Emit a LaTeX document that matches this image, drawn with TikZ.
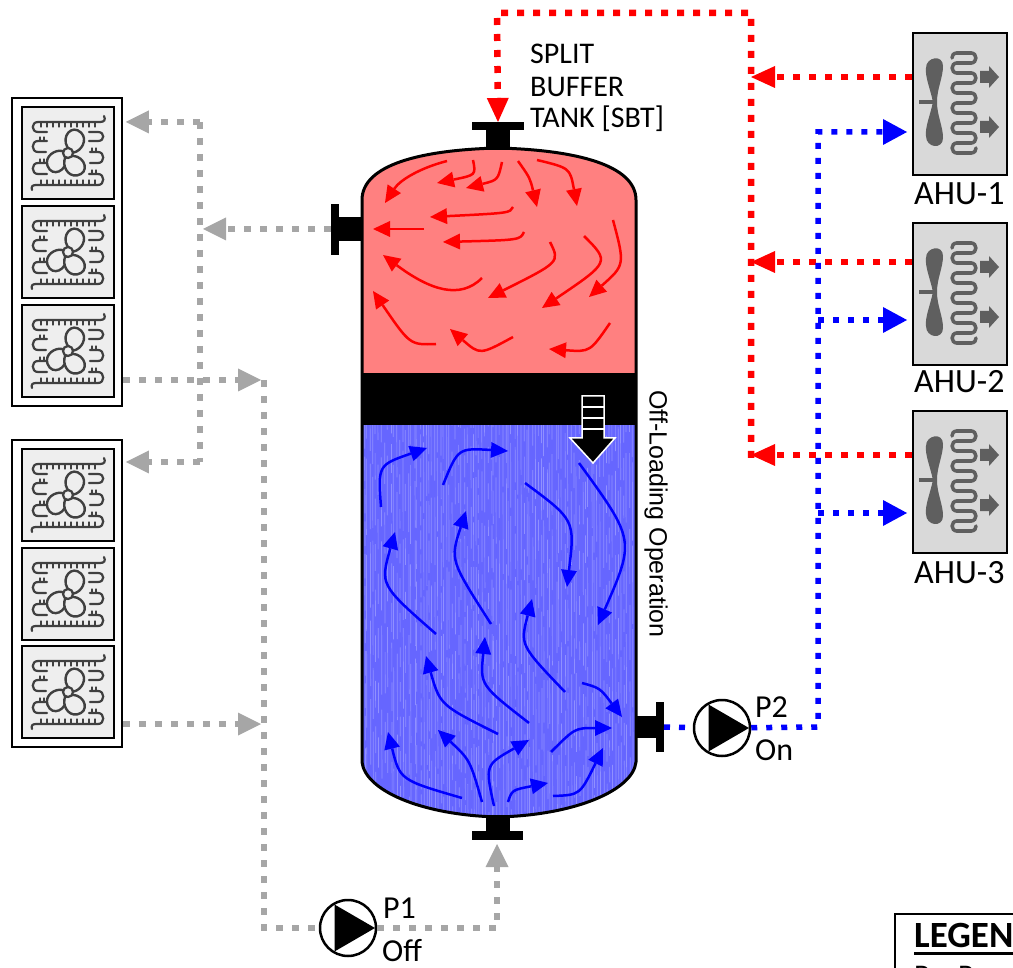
\documentclass[tikz,border=0pt]{standalone}
\usepackage{fontspec}
\setmainfont{Carlito}
\newfontfamily\arialf{Liberation Sans}
\usetikzlibrary{arrows.meta}
\definecolor{tankred}{HTML}{FF8080}
\definecolor{tankblue}{HTML}{6666FF}
\definecolor{flowred}{HTML}{FF0000}
\definecolor{flowblue}{HTML}{0000FF}
\definecolor{pipegray}{HTML}{A6A6A6}
\definecolor{chfill}{HTML}{EEEEEE}
\definecolor{chicon}{HTML}{404040}
\definecolor{ahufill}{HTML}{D9D9D9}
\definecolor{ahuicon}{HTML}{5F5F5F}
\tikzset{
  gdot/.style={draw=pipegray, line width=6.5pt, dash pattern=on 7pt off 9pt},
  rdot/.style={draw=flowred, line width=6.5pt, dash pattern=on 7pt off 9pt},
  bdot/.style={draw=flowblue, line width=5.5pt, dash pattern=on 6pt off 9pt},
  gtip/.style={-{Triangle[length=23pt,width=23pt,line width=0pt]}, shorten >=3pt},
  rtip/.style={-{Triangle[length=24pt,width=22pt,line width=0pt]}},
  btip/.style={-{Triangle[length=24pt,width=26pt,line width=0pt]}, shorten >=5pt},
  redflow/.style={draw=flowred, line width=2.5pt, -{Triangle[length=17pt,width=16pt,line width=0pt]}},
  blueflow/.style={draw=flowblue, line width=2.5pt, -{Triangle[length=17pt,width=16pt,line width=0pt]}},
  unitbox/.style={draw=black, line width=2pt, fill=chfill, minimum width=92pt, minimum height=92pt, inner sep=0pt},
  groupbox/.style={draw=black, line width=1.5pt, fill=white, minimum width=110pt, inner sep=0pt},
  ahubox/.style={draw=black, line width=2pt, fill=ahufill, minimum width=94pt, minimum height=142pt, inner sep=0pt},
  pump/.style={circle, draw=black, line width=2.5pt, fill=white, minimum size=56pt, inner sep=0pt},
  lbl/.style={inner sep=0pt, anchor=base west},
  chillericon/.pic={
    \begin{scope}[draw=chicon, line width=2.2pt, line cap=round]
      \draw (36,-37) .. controls (38,-33) and (36,-31) .. (32,-31) -- (-30,-31) .. controls (-37,-31) and (-37,-21) .. (-30,-21) -- (-21,-21);
      \foreach \x in {-27,-21,...,30} \draw[line width=1.3pt] (\x,-31) -- (\x,-26);
      \draw (-21,-12) -- (-30,-12) .. controls (-37,-12) and (-37,-1) .. (-30,-1) -- (-22,-1);
      \draw (-22,10) -- (-30,10) .. controls (-37,10) and (-37,21) .. (-30,21) -- (-21,21);
      \draw (21,-21) -- (30,-21) .. controls (37,-21) and (37,-12) .. (30,-12) -- (21,-12);
      \draw (22,-1) -- (30,-1) .. controls (37,-1) and (37,10) .. (30,10) -- (22,10);
      \draw (21,21) -- (30,21) .. controls (37,21) and (37,32) .. (30,32) -- (-32,32) .. controls (-36,32) and (-37,34) .. (-36,37);
      \foreach \x in {-27,-21,...,30} \draw[line width=1.3pt] (\x,32) -- (\x,27);
      \foreach \x in {-28,-24} {\draw[line width=1.3pt] (\x,-12) -- (\x,-16); \draw[line width=1.3pt] (\x,10) -- (\x,6);}
      \foreach \x in {24,28} {\draw[line width=1.3pt] (\x,-1) -- (\x,-5); \draw[line width=1.3pt] (\x,21) -- (\x,17);}
      \foreach \a in {50,205,-75}
        \draw[rotate=\a, fill=chfill, line width=2.4pt] (4,-4) .. controls (8,-16) and (25,-16) .. (24,-3) .. controls (23,7) and (10,9) .. (4,4) -- cycle;
      \draw[fill=chfill] (0,0) circle (5);
    \end{scope}
  },
  ahuicon/.pic={
    \begin{scope}[shift={(-47,-71)}]
      \fill[ahuicon] (20,69) .. controls (17,55) and (12,44) .. (13,35) .. controls (13,24) and (30,21) .. (30,33)
        .. controls (30,45) and (24,55) .. (24,69) .. controls (24,83) and (30,93) .. (30,105)
        .. controls (30,117) and (13,115) .. (13,103) .. controls (12,94) and (17,83) .. (20,69) -- cycle;
      \fill[ahuicon] (6,67) rectangle (21,71);
      \begin{scope}[draw=ahuicon, line width=3.5pt, line cap=round]
        \foreach \k in {0,...,10} \draw (44,{20+10*\k}) -- (58,{20+10*\k});
        \foreach \k in {0,2,...,8} \draw (58,{20+10*\k}) .. controls (64.5,{20+10*\k}) and (64.5,{30+10*\k}) .. (58,{30+10*\k});
        \foreach \k in {1,3,...,9} \draw (44,{20+10*\k}) .. controls (37.5,{20+10*\k}) and (37.5,{30+10*\k}) .. (44,{30+10*\k});
        \draw (44,20) .. controls (40,20) and (39,23) .. (39,25);
        \draw (58,120) .. controls (62,120) and (63,117) .. (63,115);
      \end{scope}
      \foreach \y in {44,94}
        \fill[ahuicon] (67,{\y-6}) -- (76,{\y-6}) -- (76,{\y-11}) -- (86,\y) -- (76,{\y+11}) -- (76,{\y+6}) -- (67,{\y+6}) -- cycle;
    \end{scope}
  }
}
\begin{document}
\begin{tikzpicture}[x=1pt,y=-1pt]
\useasboundingbox (0,0) rectangle (1013,968);

% ---------- tank ----------
\fill[tankred] (362,376) -- (362,200) .. controls (362,165) and (420,150) .. (498,148) .. controls (576,150) and (636,165) .. (636,200) -- (636,376) -- cycle;
\fill[tankblue] (362,420) -- (362,762) .. controls (365,790) and (420,815) .. (498,817) .. controls (576,815) and (633,790) .. (636,762) -- (636,420) -- cycle;
\begin{scope}
  \clip (362,420) -- (362,762) .. controls (365,790) and (420,815) .. (498,817) .. controls (576,815) and (633,790) .. (636,762) -- (636,420) -- cycle;
  \pgfmathsetseed{7}
  \foreach \i in {0,...,92} {
    \pgfmathsetmacro{\xx}{363+\i*2.95+rnd*2}
    \pgfmathsetmacro{\aa}{15+rnd*70}
    \pgfmathsetmacro{\bb}{4+rnd*25}
    \pgfmathsetmacro{\oo}{rnd*60}
    \draw[white, opacity=0.28, line width=0.7pt, dash pattern=on \aa pt off \bb pt, dash phase=\oo pt] (\xx,420) -- (\xx+0.8,820);
  }
\end{scope}
\fill[black] (361,373) rectangle (637,425);
\draw[line width=3pt] (362,200) .. controls (362,165) and (420,150) .. (498,148) .. controls (576,150) and (636,165) .. (636,200)
  -- (636,762) .. controls (633,790) and (576,815) .. (498,817) .. controls (420,815) and (365,790) .. (362,762) -- cycle;

% nozzles
\fill (486,128) rectangle (510,150);  \fill (472,122) rectangle (524,130);
\fill (338,217) rectangle (363,241);  \fill (331,204) rectangle (339,255);
\fill (635,716) rectangle (657,738);  \fill (656,702) rectangle (664,752);
\fill (486,815) rectangle (510,832);  \fill (472,831) rectangle (523,840);
\coordinate (topnoz) at (498,122);
\coordinate (leftnoz) at (331,229);
\coordinate (rightnoz) at (664,727);
\coordinate (botnoz) at (497,841);

% off-loading block arrow
\filldraw[fill=black, draw=white, line width=1.5pt] (582,396) -- (604,396) -- (604,438) -- (615,438) -- (593,463) -- (570,438) -- (582,438) -- cycle;
\draw[white, line width=1.5pt] (582,407) -- (604,407) (582,418) -- (604,418) (582,429) -- (604,429);

% red circulation
\draw[redflow] (447,161) .. controls (420,168) and (400,180) .. (385,203);
\draw[redflow] (473,160) .. controls (476,175) .. (437,183);
\draw[redflow] (502,162) .. controls (498,180) .. (466,188);
\draw[redflow] (518,161) .. controls (530,178) .. (537,207);
\draw[redflow] (537,160) .. controls (570,168) .. (577,206);
\draw[redflow] (513,207) .. controls (510,213) .. (430,217);
\draw[redflow] (424,229) -- (373,229);
\draw[redflow] (524,232) .. controls (520,240) .. (443,242);
\draw[redflow] (482,278) .. controls (460,300) and (430,290) .. (383,255);
\draw[redflow] (550,242) .. controls (560,262) .. (488,298);
\draw[redflow] (584,236) .. controls (610,262) .. (542,308);
\draw[redflow] (613,220) .. controls (625,265) .. (589,297);
\draw[redflow] (436,344) .. controls (410,345) .. (373,291);
\draw[redflow] (513,337) .. controls (480,355) .. (450,329);
\draw[redflow] (610,323) .. controls (590,352) .. (549,349);

% blue circulation
\draw[blueflow] (381,507) .. controls (378,465) .. (427,448);
\draw[blueflow] (443,485) .. controls (458,448) .. (508,451);
\draw[blueflow] (525,483) .. controls (575,520) .. (567,587);
\draw[blueflow] (579,463) .. controls (635,540) .. (598,625);
\draw[blueflow] (436,634) .. controls (380,585) .. (395,532);
\draw[blueflow] (491,624) .. controls (450,560) .. (466,511);
\draw[blueflow] (498,734) .. controls (440,705) .. (426,656);
\draw[blueflow] (529,723) .. controls (480,685) .. (485,637);
\draw[blueflow] (565,692) .. controls (520,645) .. (532,599);
\draw[blueflow] (582,683) .. controls (600,688) .. (622,717);
\draw[blueflow] (462,798) .. controls (400,780) .. (388,732);
\draw[blueflow] (482,802) .. controls (470,760) .. (438,730);
\draw[blueflow] (494,806) .. controls (485,765) .. (529,740);
\draw[blueflow] (508,802) .. controls (512,790) .. (548,783);
\draw[blueflow] (551,752) .. controls (575,728) .. (612,728);
\draw[blueflow] (553,796) .. controls (580,795) .. (603,748);

% ---------- texts ----------
\node[lbl, font=\fontsize{30}{32}\selectfont] (sbt1) at (530,64) {SPLIT};
\node[lbl, font=\fontsize{30}{32}\selectfont] (sbt2) at (530,97) {BUFFER};
\node[lbl, font=\fontsize{30}{32}\selectfont] (sbt3) at (530,128) {TANK [SBT]};
\node[rotate=-90, inner sep=0pt, font=\arialf\fontsize{25}{27}\selectfont] (offload) at (656,514) {Off-Loading Operation};

% ---------- chillers ----------
\node[groupbox, minimum height=308pt] (grpA) at (67,252) {};
\node[groupbox, minimum height=307pt] (grpB) at (67,593.5) {};
\node[unitbox] (chA1) at (68,153) {};  \pic at (chA1) {chillericon};
\node[unitbox] (chA2) at (68,252) {};  \pic at (chA2) {chillericon};
\node[unitbox] (chA3) at (68,351) {};  \pic at (chA3) {chillericon};
\node[unitbox] (chB1) at (68,495) {};  \pic at (chB1) {chillericon};
\node[unitbox] (chB2) at (68,594) {};  \pic at (chB2) {chillericon};
\node[unitbox] (chB3) at (68,692) {};  \pic at (chB3) {chillericon};

% ---------- AHUs ----------
\node[ahubox] (ahu1) at (960,104) {};  \pic at (ahu1) {ahuicon};
\node[ahubox] (ahu2) at (960,294) {};  \pic at (ahu2) {ahuicon};
\node[ahubox] (ahu3) at (960,482) {};  \pic at (ahu3) {ahuicon};
\node[lbl, font=\fontsize{34}{36}\selectfont] (ahu1l) at (914,205) {AHU-1};
\node[lbl, font=\fontsize{34}{36}\selectfont] (ahu2l) at (914,393) {AHU-2};
\node[lbl, font=\fontsize{34}{36}\selectfont] (ahu3l) at (914,583) {AHU-3};

% ---------- pumps ----------
\node[pump] (p1) at (348,928) {};
\fill ([shift={(27,0)}]p1.center) -- ([shift={(-13.5,-23.5)}]p1.center) -- ([shift={(-13.5,23.5)}]p1.center) -- cycle;
\node[pump] (p2) at (722,728) {};
\fill ([shift={(27,0)}]p2.center) -- ([shift={(-13.5,-23.5)}]p2.center) -- ([shift={(-13.5,23.5)}]p2.center) -- cycle;
\node[lbl, font=\fontsize{32}{34}\selectfont] (p1a) at (383,918) {P1};
\node[lbl, font=\fontsize{32}{34}\selectfont] (p1b) at (382,961) {Off};
\node[lbl, font=\fontsize{32}{34}\selectfont] (p2a) at (755,717) {P2};
\node[lbl, font=\fontsize{32}{34}\selectfont] (p2b) at (755,760) {On};

% ---------- gray (condenser) piping ----------
\coordinate (gA) at (200,229);
\coordinate (gAt) at (200,122);
\coordinate (gAb) at (200,462);
\draw[gdot] (gAt) -- (gAb);
\draw[gdot,gtip] (leftnoz) -- (gA);
\draw[gdot,gtip] (gAt) -- (grpA.east |- gAt);
\draw[gdot,gtip] (gAb) -- (grpB.east |- gAb);
\coordinate (gR1) at (264,380);
\coordinate (gR2) at (264,724);
\coordinate (gRb) at (264,928);
\coordinate (gP) at (497,928);
\draw[gdot] (gR1) -- (gRb) -- (p1);
\draw[gdot,gtip] (grpA.east |- gR1) -- (gR1);
\draw[gdot,gtip] (grpB.east |- gR2) -- (gR2);
\draw[gdot,gtip] (p1) -- (gP) -- (botnoz);

% ---------- red (return) piping ----------
\coordinate (rV) at (751,458);
\coordinate (rT) at (751,13);
\coordinate (rL) at (497,13);
\draw[rdot,rtip] (rV) -- (rT) -- (rL) -- (topnoz);
\coordinate (rj1) at (751,77);
\coordinate (rj2) at (751,262);
\coordinate (rj3) at (751,455);
\draw[rdot,rtip] (ahu1.west |- rj1) -- (rj1);
\draw[rdot,rtip] (ahu2.west |- rj2) -- (rj2);
\draw[rdot,rtip] (ahu3.west |- rj3) -- (rj3);

% ---------- blue (supply) piping ----------
\coordinate (bC) at (818,727);
\coordinate (bT) at (818,132);
\coordinate (bj2) at (818,320);
\coordinate (bj3) at (818,513);
\draw[bdot] (rightnoz) -- (p2);
\draw[bdot,btip] (p2) -- (bC) -- (bT) -- (ahu1.west |- bT);
\draw[bdot,btip] (bj2) -- (ahu2.west |- bj2);
\draw[bdot,btip] (bj3) -- (ahu3.west |- bj3);

% ---------- legend ----------
\draw[line width=1.5pt] (895,1010) -- (895,914) -- (1030,914);
\node[lbl, font=\bfseries\fontsize{37}{39}\selectfont] (legend) at (914,947) {LEGEND};
\draw[line width=3pt] (914,953) -- (1020,953);
\node[lbl, font=\fontsize{30}{32}\selectfont] (legp) at (914,985) {P – Pump};
\end{tikzpicture}
\end{document}
